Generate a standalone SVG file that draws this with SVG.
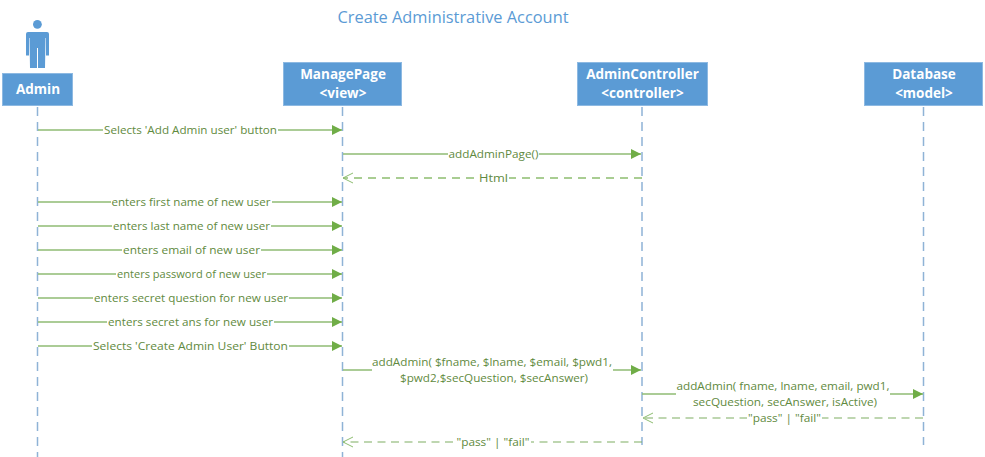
<svg xmlns="http://www.w3.org/2000/svg" width="985" height="457" viewBox="0 0 985 457">
<style>
text{font-family:"Open Sans","Noto Sans","Liberation Sans",sans-serif}
.box{fill:#5b9bd5;stroke:#8db9e2;stroke-width:1}
.nt{fill:#fff;font-size:13.5px;font-weight:700;text-anchor:middle}
.ll{fill:none;stroke:#8fb3d6;stroke-width:1.5;stroke-dasharray:9 6}
.m{fill:none;stroke:#8fbb73;stroke-width:1.6}
.r{fill:none;stroke:#a9cd92;stroke-width:1.8;stroke-dasharray:8 6}
.r2{fill:none;stroke:#7fae63;stroke-width:1.2;stroke-dasharray:8 5.500}
.l{fill:#5f8a40;font-size:10.5px;text-anchor:middle}
.bg{fill:#fff}
</style>
<defs>
<marker id="a" markerUnits="userSpaceOnUse" markerWidth="11" markerHeight="12" refX="10" refY="6" orient="auto"><path d="M0 1 L10 6 L0 11Z" fill="#70ad47"/></marker>
<marker id="o" markerUnits="userSpaceOnUse" markerWidth="12" markerHeight="12" refX="11" refY="6" orient="auto"><path d="M1 1 L11 6 L1 11" fill="none" stroke="#8dbd70" stroke-width="1"/></marker>
</defs>
<text x="453" y="23" text-anchor="middle" font-size="16.500" fill="#5b9bd5" textLength="231" lengthAdjust="spacingAndGlyphs">Create Administrative Account</text>
<g id="lifelines">
<path class="ll" d="M37.500 107V457"/><path class="ll" d="M342.500 107V457"/><path class="ll" d="M642 107V445"/><path class="ll" d="M923.500 107V445"/>
</g>
<g id="actor-icon" fill="#5b9bd5">
<circle cx="37.400" cy="24.300" r="4.400"/>
<path d="M28 32h19a2 2 0 0 1 2 2v21.500h-3V38h-.5L45 68h-7V48h-1v20h-7L29.500 38H29v17.500H26V34a2 2 0 0 1 2-2z"/>
</g>
<g id="node-admin"><rect class="box" x="2.500" y="73.500" width="70" height="32"/><text class="nt" x="38" y="94">Admin</text></g>
<g id="node-managepage"><rect class="box" x="283.500" y="62.500" width="118" height="43"/><text class="nt" x="343" y="79">ManagePage</text><text class="nt" x="343" y="98">&lt;view&gt;</text></g>
<g id="node-admincontroller"><rect class="box" x="577.500" y="62.500" width="130" height="43"/><text class="nt" x="642.500" y="79">AdminController</text><text class="nt" x="642.500" y="98">&lt;controller&gt;</text></g>
<g id="node-database"><rect class="box" x="864.500" y="62.500" width="118" height="43"/><text class="nt" x="924" y="79">Database</text><text class="nt" x="924" y="98">&lt;model&gt;</text></g>
<g id="connectors">
<path class="m" marker-end="url(#a)" d="M38 130H342"/>
<path class="m" marker-end="url(#a)" d="M343 154H641"/>
<path class="r" marker-end="url(#o)" d="M642 178H343"/>
<path class="m" marker-end="url(#a)" d="M38 202H342"/>
<path class="m" marker-end="url(#a)" d="M38 226H342"/>
<path class="m" marker-end="url(#a)" d="M38 250H342"/>
<path class="m" marker-end="url(#a)" d="M38 274H342"/>
<path class="m" marker-end="url(#a)" d="M38 298H342"/>
<path class="m" marker-end="url(#a)" d="M38 322H342"/>
<path class="m" marker-end="url(#a)" d="M38 346H342"/>
<path class="m" marker-end="url(#a)" d="M343 370H641"/>
<path class="m" marker-end="url(#a)" d="M642 394H923"/>
<path class="r2" marker-end="url(#o)" d="M923 418H643"/>
<path class="r2" marker-end="url(#o)" d="M642 442H343"/>
</g>
<g id="labels">
<rect class="bg" x="103" y="123" width="175" height="14"/><text class="l" x="190.500" y="134" textLength="173" lengthAdjust="spacingAndGlyphs">Selects 'Add Admin user' button</text>
<rect class="bg" x="448" y="147" width="91" height="14"/><text class="l" x="493.500" y="158" textLength="90" lengthAdjust="spacingAndGlyphs">addAdminPage()</text>
<rect class="bg" x="478" y="171" width="31" height="14"/><text class="l" x="493.500" y="182" textLength="29" lengthAdjust="spacingAndGlyphs">Html</text>
<rect class="bg" x="111" y="195" width="161" height="14"/><text class="l" x="191" y="206" textLength="159" lengthAdjust="spacingAndGlyphs">enters first name of new user</text>
<rect class="bg" x="112" y="219" width="159" height="14"/><text class="l" x="191.500" y="230" textLength="157" lengthAdjust="spacingAndGlyphs">enters last name of new user</text>
<rect class="bg" x="122" y="243" width="139" height="14"/><text class="l" x="191.500" y="254" textLength="137" lengthAdjust="spacingAndGlyphs">enters email of new user</text>
<rect class="bg" x="116" y="267" width="151" height="14"/><text class="l" x="191.500" y="278" textLength="149" lengthAdjust="spacingAndGlyphs">enters password of new user</text>
<rect class="bg" x="93" y="291" width="196" height="14"/><text class="l" x="191" y="302" textLength="194" lengthAdjust="spacingAndGlyphs">enters secret question for new user</text>
<rect class="bg" x="107" y="315" width="167" height="14"/><text class="l" x="190.500" y="326" textLength="165" lengthAdjust="spacingAndGlyphs">enters secret ans for new user</text>
<rect class="bg" x="92" y="339" width="197" height="14"/><text class="l" x="190.500" y="350" textLength="195" lengthAdjust="spacingAndGlyphs">Selects 'Create Admin User' Button</text>
<rect class="bg" x="372" y="355" width="241" height="31"/><text class="l" x="492" y="366" textLength="240" lengthAdjust="spacingAndGlyphs">addAdmin( $fname, $lname, $email, $pwd1,</text><text class="l" x="494" y="382" textLength="188" lengthAdjust="spacingAndGlyphs">$pwd2,$secQuestion, $secAnswer)</text>
<rect class="bg" x="676" y="379" width="214" height="31"/><text class="l" x="783" y="390" textLength="213" lengthAdjust="spacingAndGlyphs">addAdmin( fname, lname, email, pwd1,</text><text class="l" x="785" y="406" textLength="184" lengthAdjust="spacingAndGlyphs">secQuestion, secAnswer, isActive)</text>
<rect class="bg" x="747" y="411" width="75" height="14"/><text class="l" x="784.500" y="422" textLength="73" lengthAdjust="spacingAndGlyphs">"pass" | "fail"</text>
<rect class="bg" x="455" y="435" width="76" height="14"/><text class="l" x="493" y="446" textLength="73" lengthAdjust="spacingAndGlyphs">"pass" | "fail"</text>
</g>
</svg>
